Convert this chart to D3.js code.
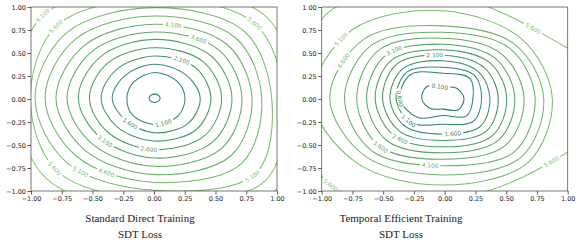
<!DOCTYPE html>
<html><head><meta charset="utf-8">
<script src="https://cdn.jsdelivr.net/npm/d3@7"></script>
<style>body{margin:0;background:#fff}svg{display:block}</style>
</head><body>
<svg id="chart" width="581" height="247"></svg>
<script>
// ---------------- data ----------------
const levels = [0.1, 0.6, 1.1, 1.6, 2.1, 2.6, 3.1, 3.6, 4.1, 4.6, 5.1, 5.6, 6.1];
const xTicks = [-1, -0.75, -0.5, -0.25, 0, 0.25, 0.5, 0.75, 1];
const yTicks = [-1, -0.75, -0.5, -0.25, 0, 0.25, 0.5, 0.75, 1];
const titles = [["Standard Direct Training", "SDT Loss"], ["Temporal Efficient Training", "SDT Loss"]];
// polar sampling directions (degrees, counter-clockwise from +x)
const angles = [0, 45, 90, 135, 180, 225, 270, 315];

// Panel 1 : Standard Direct Training  (radius of each contour level per direction)
const sdtCenter = [0.005, 0.008];
const sdtLevels = [0.6, 1.1, 1.6, 2.1, 2.6, 3.1, 3.6, 4.1, 4.6, 5.1, 5.6, 6.1];
const sdtRadii = [
  [0.045, 0.045, 0.045, 0.045, 0.045, 0.045, 0.045, 0.045],
  [0.247, 0.26, 0.28, 0.245, 0.225, 0.255, 0.285, 0.27],
  [0.371, 0.36, 0.37, 0.345, 0.345, 0.335, 0.375, 0.385],
  [0.458, 0.47, 0.46, 0.44, 0.435, 0.435, 0.465, 0.48],
  [0.545, 0.56, 0.55, 0.54, 0.53, 0.53, 0.56, 0.575],
  [0.629, 0.65, 0.64, 0.63, 0.62, 0.615, 0.65, 0.67],
  [0.71, 0.74, 0.72, 0.72, 0.712, 0.71, 0.74, 0.77],
  [0.792, 0.83, 0.805, 0.81, 0.802, 0.80, 0.83, 0.88],
  [0.871, 0.93, 0.895, 0.91, 0.891, 0.895, 0.915, 1.00],
  [0.952, 1.03, 0.985, 1.01, 0.972, 1.0, 1.0, 1.16],
  [1.05, 1.15, 1.08, 1.12, 1.01, 1.12, 1.10, 1.27],
  [1.15, 1.27, 1.18, 1.28, 1.12, 1.24, 1.22, 1.40]
];
// label: [level, direction in degrees]
const sdtLabels = [[1.1, 285], [1.6, 234], [2.1, 62], [2.6, 265], [3.1, 229], [3.6, 61], [4.1, 79],
  [4.6, 244], [5.1, 233], [5.1, 313], [5.6, 136], [5.6, 45], [5.6, 223], [6.1, 135]];

// Panel 2 : Temporal Efficient Training
const tetCenter = [-0.015, 0.005];
const tetLevels = [0.1, 0.6, 1.1, 1.6, 2.1, 2.6, 3.1, 3.6, 4.1, 4.6, 5.1, 5.6];
const tetRadii = [
  [0.172, 0.158, 0.125, 0.185, 0.172, 0.15, 0.115, 0.175],
  [0.245, 0.31, 0.275, 0.37, 0.35, 0.29, 0.185, 0.27],
  [0.315, 0.36, 0.34, 0.41, 0.38, 0.37, 0.28, 0.35],
  [0.383, 0.41, 0.41, 0.46, 0.43, 0.43, 0.385, 0.43],
  [0.451, 0.475, 0.47, 0.53, 0.49, 0.50, 0.455, 0.50],
  [0.519, 0.545, 0.53, 0.59, 0.55, 0.565, 0.525, 0.57],
  [0.585, 0.61, 0.59, 0.66, 0.62, 0.645, 0.59, 0.64],
  [0.66, 0.68, 0.655, 0.74, 0.70, 0.73, 0.66, 0.72],
  [0.75, 0.77, 0.72, 0.82, 0.80, 0.81, 0.73, 0.82],
  [0.82, 0.83, 0.79, 0.91, 0.92, 0.89, 0.83, 0.90],
  [0.89, 0.91, 0.955, 1.05, 1.06, 0.99, 0.94, 0.98],
  [1.45, 1.06, 1.12, 1.32, 1.15, 1.31, 1.10, 1.09]
];
const tetLabels = [[0.1, 101], [0.6, 180], [1.1, 221], [1.6, 282], [2.1, 98], [2.6, 232], [3.1, 127],
  [3.6, 226], [4.1, 262], [4.6, 153], [5.1, 142], [5.6, 46], [5.6, 322], [5.6, 226]];

// ---------------- drawing ----------------
const svg = d3.select("#chart");
const W = 246, H = 184;
const panels = [
  {left: 31, top: 7, center: sdtCenter, lv: sdtLevels, radii: sdtRadii, labels: sdtLabels, title: titles[0], tx: 140},
  {left: 321.7, top: 7, center: tetCenter, lv: tetLevels, radii: tetRadii, labels: tetLabels, title: titles[1], tx: 401}
];
const color = d3.scaleLinear().domain([0.1, 6.1]).range(["#1f7d5e", "#8cc870"]).interpolate(d3.interpolateRgb);

panels.forEach((p, pi) => {
  const x = d3.scaleLinear().domain([-1, 1]).range([0, W]);
  const y = d3.scaleLinear().domain([-1, 1]).range([H, 0]);
  const g = svg.append("g").attr("transform", `translate(${p.left},${p.top})`);
  const clipId = "clip" + pi;
  g.append("clipPath").attr("id", clipId).append("rect").attr("width", W).attr("height", H);
  const cg = g.append("g").attr("clip-path", `url(#${clipId})`);
  const line = d3.line().x(d => x(d[0])).y(d => y(d[1])).curve(d3.curveCatmullRomClosed.alpha(0.5));
  const paths = {};
  p.lv.forEach((lv, i) => {
    const pts = angles.map((a, j) => {
      const t = a * Math.PI / 180;
      return [p.center[0] + p.radii[i][j] * Math.cos(t), p.center[1] + p.radii[i][j] * Math.sin(t)];
    });
    paths[lv] = cg.append("path").attr("d", line(pts)).attr("fill", "none")
      .attr("stroke", color(lv)).attr("stroke-width", 1.05);
  });
  // labels
  const lg = g.append("g");
  p.labels.forEach(([lv, ang]) => {
    const node = paths[lv].node();
    const L = node.getTotalLength();
    const N = 720;
    let best = 0, bestd = 1e9;
    const target = ang * Math.PI / 180;
    for (let k = 0; k < N; k++) {
      const pt = node.getPointAtLength(L * k / N);
      const dx = x.invert(pt.x) - p.center[0], dy = y.invert(pt.y) - p.center[1];
      let d = Math.abs(Math.atan2(dy, dx) - target);
      d = Math.min(d, Math.abs(d - 2 * Math.PI), Math.abs(d + 2 * Math.PI));
      if (d < bestd) { bestd = d; best = k; }
    }
    const p0 = node.getPointAtLength(L * best / N);
    const pa = node.getPointAtLength(L * ((best - 4 + N) % N) / N);
    const pb = node.getPointAtLength(L * ((best + 4) % N) / N);
    let rot = Math.atan2(pb.y - pa.y, pb.x - pa.x) * 180 / Math.PI;
    if (rot >= 89) rot -= 180;
    if (rot < -91) rot += 180;
    const tg = lg.append("g").attr("transform", `translate(${p0.x},${p0.y}) rotate(${rot})`);
    const txt = tg.append("text").text(lv.toFixed(3))
      .attr("text-anchor", "middle").attr("dy", "0.35em")
      .attr("font-family", "DejaVu Sans").attr("font-size", 5.8)
      .attr("fill", color(lv));
    const w = txt.node().getComputedTextLength();
    tg.insert("rect", "text").attr("x", -w / 2 - 2).attr("y", -2.5).attr("width", w + 4).attr("height", 5).attr("fill", "#fff");
  });
  // axes
  const ax = g.append("g").attr("transform", `translate(0,${H})`)
    .call(d3.axisBottom(x).tickValues(xTicks).tickFormat(d3.format(".2f")).tickSize(3.5).tickPadding(1.5));
  const ay = g.append("g")
    .call(d3.axisLeft(y).tickValues(yTicks).tickFormat(d3.format(".2f")).tickSize(3.5).tickPadding(1.5));
  [ax, ay].forEach(a => {
    a.select(".domain").remove();
    a.selectAll("line").attr("stroke", "#333").attr("stroke-width", 0.8);
    a.selectAll("text").attr("font-family", "DejaVu Sans").attr("font-size", 6.5).attr("fill", "#222");
  });
  g.append("rect").attr("width", W).attr("height", H).attr("fill", "none").attr("stroke", "#555").attr("stroke-width", 0.8);
  // titles
  const tt = svg.append("text").attr("text-anchor", "middle").attr("font-family", "Liberation Serif")
    .attr("font-size", 11).attr("fill", "#222");
  tt.append("tspan").attr("x", p.tx).attr("y", 222).text(p.title[0]);
  tt.append("tspan").attr("x", p.tx).attr("y", 238).text(p.title[1]);
});
</script>
</body></html>
